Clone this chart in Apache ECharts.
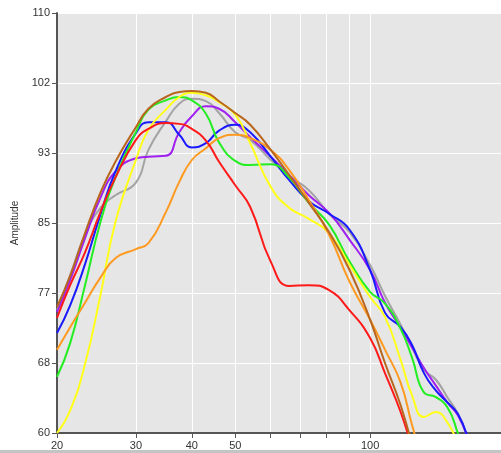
<!DOCTYPE html>
<html><head><meta charset="utf-8">
<script src="https://cdn.jsdelivr.net/npm/echarts@6/dist/echarts.min.js"></script>
<style>html,body{margin:0;padding:0;background:#fff;overflow:hidden}#c{width:501px;height:453px}</style>
</head><body><div id="c"></div>
<script>
// frequencies (log axis)
const freqs = [20, 21.4, 23.1, 25, 27, 30, 32, 35, 37.5, 40, 43, 46, 50, 54, 60, 66, 73, 81, 90, 100, 108, 117, 124, 132, 140, 149, 157, 165];
const xTickValues = [20, 30, 40, 50, 60, 70, 80, 90, 100];
const xLabelValues = [20, 30, 40, 50, 100];
const yTickValues = [60, 68.3333, 76.6667, 85, 93.3333, 101.6667, 110];

const gray   = [74.6, 78.8, 83.6, 86.8, 88.3, 89.8, 93.7, 97.1, 99.2, 99.8, 99.5, 98.1, 95.8, 94.9, 92.5, 90.6, 88.9, 86.1, 83.9, 80.0, 76.3, 72.9, 70.2, 67.5, 66.4, 64.2, 62.3, 59.5];
const purple = [74.4, 78.2, 83.2, 88.0, 91.1, 92.7, 92.9, 93.0, 95.8, 97.7, 98.9, 98.6, 97.0, 95.2, 92.9, 90.7, 88.3, 86.2, 83.0, 79.4, 75.5, 72.5, 70.2, 67.7, 65.7, 63.6, 62.1, 59.5];
const blue   = [71.9, 75.2, 80.1, 86.0, 91.1, 95.7, 97.0, 97.0, 95.5, 94.0, 94.5, 96.0, 96.7, 95.8, 92.9, 90.1, 87.6, 86.1, 84.2, 79.4, 74.3, 72.6, 70.5, 67.1, 65.1, 63.6, 62.3, 59.5];
const green  = [66.7, 70.7, 77.6, 85.1, 90.4, 95.8, 98.5, 99.6, 100.0, 99.6, 98.0, 94.6, 92.4, 91.9, 92.0, 90.4, 87.4, 84.8, 80.4, 76.8, 75.4, 72.4, 69.0, 64.8, 64.3, 63.0, 60.0, 56.8];
const yellow = [60.0, 62.7, 68.2, 76.4, 85.1, 92.5, 96.1, 98.5, 100.0, 100.5, 100.2, 99.4, 97.9, 94.5, 89.3, 86.8, 85.5, 83.8, 80.0, 76.2, 73.8, 68.7, 64.5, 61.9, 62.5, 61.2, 58.6, null];
const orange = [69.9, 72.6, 75.5, 78.5, 80.8, 81.9, 82.6, 86.3, 89.9, 92.5, 93.9, 95.1, 95.5, 95.1, 93.7, 91.3, 87.7, 83.6, 78.0, 73.5, 69.9, 66.0, 61.0, 56.0, null, null, null, null];
const red    = [73.7, 77.6, 81.5, 86.3, 90.4, 94.9, 96.2, 96.9, 96.8, 96.2, 94.8, 92.3, 89.5, 86.9, 80.4, 77.5, 77.6, 77.0, 74.6, 71.3, 67.1, 62.5, 58.2, null, null, null, null, null];
const brown  = [75.0, 78.7, 83.8, 88.6, 92.3, 96.4, 98.6, 100.0, 100.6, 100.7, 100.5, 99.5, 98.1, 96.7, 93.7, 90.7, 87.4, 83.9, 79.4, 73.5, 68.3, 63.3, 58.6, null, null, null, null, null];

const seriesList = [
  {name: 'gray', values: gray, color: '#a3a3a3'},
  {name: 'purple', values: purple, color: '#a020f0'},
  {name: 'blue', values: blue, color: '#1a1aff'},
  {name: 'green', values: green, color: '#22ee22'},
  {name: 'yellow', values: yellow, color: '#ffff1a'},
  {name: 'orange', values: orange, color: '#ff9a20'},
  {name: 'red', values: red, color: '#ff1a1a'},
  {name: 'brown', values: brown, color: '#b8661e'}
];

const chart = echarts.init(document.getElementById('c'), null, {renderer: 'canvas'});
const font = 'Liberation Sans, Arial, sans-serif';
chart.setOption({
  animation: false,
  backgroundColor: '#ffffff',
  grid: {left: 57, top: 13, right: 0, bottom: 20, show: true, backgroundColor: '#e6e6e6', borderWidth: 0},
  xAxis: {
    type: 'log', min: 20, max: 196,
    axisLine: {show: true, onZero: false, lineStyle: {color: '#555', width: 2}},
    axisTick: {show: true, length: 5, customValues: xTickValues, lineStyle: {color: '#555', width: 1}},
    axisLabel: {show: true, customValues: xLabelValues, margin: 7, color: '#333', fontSize: 11, fontFamily: font},
    splitLine: {show: true, lineStyle: {color: '#ffffff', width: 1}},
    minorTick: {show: false}, minorSplitLine: {show: false}
  },
  yAxis: {
    type: 'value', min: 60, max: 110,
    name: 'Amplitude', nameLocation: 'middle', nameRotate: 90, nameGap: 34,
    nameTextStyle: {color: '#333', fontSize: 10, fontFamily: font},
    axisLine: {show: true, lineStyle: {color: '#555', width: 2}},
    axisTick: {show: true, length: 5, customValues: yTickValues, lineStyle: {color: '#555', width: 1}},
    axisLabel: {show: true, customValues: yTickValues, margin: 7, color: '#333', fontSize: 11, fontFamily: font,
      formatter: v => String(Math.round(v))},
    splitLine: {show: true, lineStyle: {color: '#ffffff', width: 1}}
  },
  graphic: [{type: 'rect', left: 0, top: 450, shape: {width: 501, height: 3}, style: {fill: '#c4c4c4'}, silent: true}],
  series: seriesList.map(s => ({
    name: s.name, type: 'line', smooth: 0.5, showSymbol: false, symbol: 'none', clip: true,
    connectNulls: false,
    lineStyle: {color: s.color, width: 2},
    itemStyle: {color: s.color},
    data: freqs.map((f, i) => [f, s.values[i]])
  }))
});
</script></body></html>
